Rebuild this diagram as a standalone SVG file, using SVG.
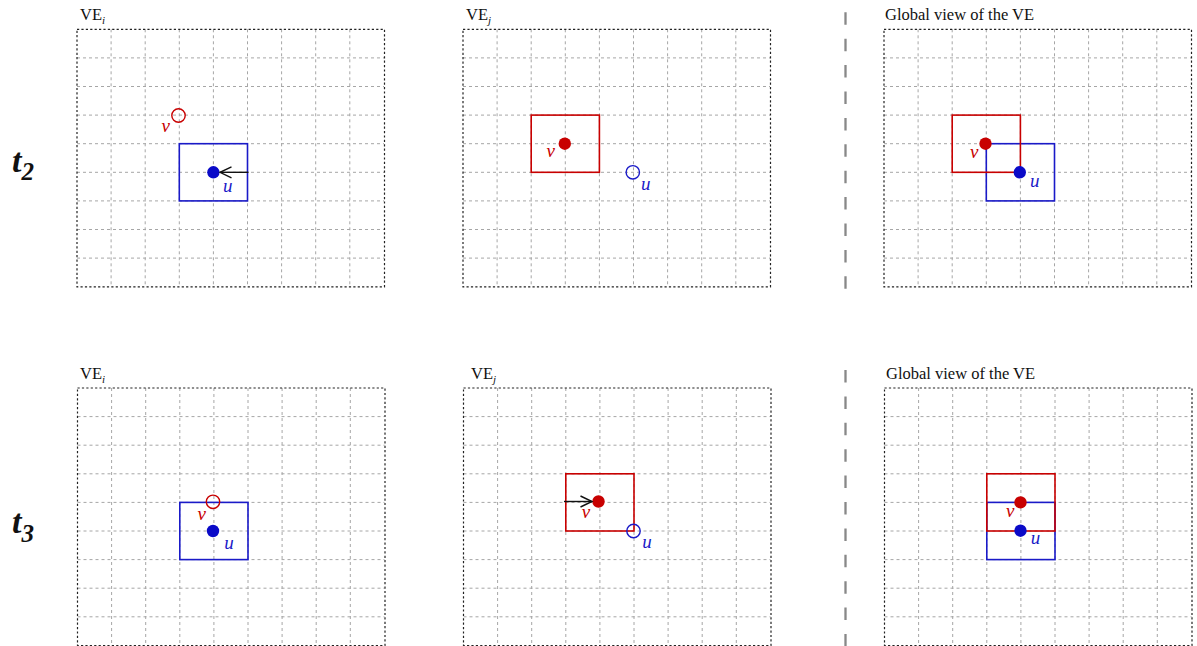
<svg xmlns="http://www.w3.org/2000/svg" width="1197" height="646" viewBox="0 0 1197 646">
<style>
  .grid { fill: none; stroke: #a6a6a6; stroke-width: 1; stroke-dasharray: 3 3; }
  .border { fill: none; stroke: #222; stroke-width: 1.2; stroke-dasharray: 2.2 2.2; }
  .lbl { font-family: "Liberation Serif", serif; font-size: 16.5px; fill: #111; }
  .sub { font-family: "Liberation Serif", serif; font-style: italic; font-size: 11px; }
  .ti { font-family: "Liberation Serif", serif; font-weight: bold; font-style: italic; fill: #111; }
  .nm { font-family: "Liberation Serif", serif; font-style: italic; font-size: 19px; }
  .bsq { fill: none; stroke: #1a1ac8; stroke-width: 1.6; }
  .rsq { fill: none; stroke: #c80000; stroke-width: 1.6; }
  .bdot { fill: #0a0ac8; }
  .rdot { fill: #c80000; }
  .bring { fill: none; stroke: #1a1ac8; stroke-width: 1.4; }
  .rring { fill: none; stroke: #c80000; stroke-width: 1.4; }
  .btx { fill: #1a1ac8; }
  .rtx { fill: #c80000; }
  .arrow { stroke: #111; stroke-width: 1.4; fill: none; marker-end: url(#open); }
  .divider { stroke: #888; stroke-width: 2.3; stroke-dasharray: 12.5 13.9; }
</style>
<defs>
  <marker id="open" viewBox="-13 -7 15 14" refX="0" refY="0" markerWidth="15" markerHeight="14" markerUnits="userSpaceOnUse" orient="auto">
    <path d="M-11.5,-5.5 L0,0 L-11.5,5.5" fill="none" stroke="#111" stroke-width="1.4"/>
  </marker>
  <g id="panel">
    <path class="grid" d="M34.1,0V257.5M68.2,0V257.5M102.3,0V257.5M136.4,0V257.5M170.5,0V257.5M204.6,0V257.5M238.7,0V257.5M272.8,0V257.5M0,28.6H307M0,57.2H307M0,85.8H307M0,114.4H307M0,143H307M0,171.6H307M0,200.2H307M0,228.8H307"/>
    <rect class="border" x="0" y="0" width="307.5" height="257.5"/>
  </g>
</defs>
<rect width="1197" height="646" fill="#fff"/>

<g id="row-labels">
  <text class="ti" x="12" y="171.5" font-size="34">t<tspan font-size="25" dy="8.5">2</tspan></text>
  <text class="ti" x="12" y="533" font-size="34">t<tspan font-size="25" dy="8.5">3</tspan></text>
</g>

<g id="dividers">
  <line class="divider" x1="845.5" y1="12.3" x2="845.5" y2="289"/>
  <line class="divider" x1="845.5" y1="370" x2="845.5" y2="646"/>
</g>

<!-- Top row, t2 -->
<g id="t2-VEi">
  <use href="#panel" x="77" y="29.3"/>
  <text class="lbl" x="80" y="20">VE<tspan class="sub" dy="3.5">i</tspan></text>
  <rect class="bsq" x="179.3" y="143.7" width="68.2" height="57.2"/>
  <circle class="bdot" cx="213.4" cy="172.3" r="6.2"/>
  <circle class="rring" cx="178.5" cy="115.5" r="6.7"/>
  <text class="nm rtx" x="161.5" y="131.5">v</text>
  <text class="nm btx" x="223" y="191.5">u</text>
</g>

<g id="t2-VEj">
  <use href="#panel" x="463" y="29.3"/>
  <text class="lbl" x="466" y="20">VE<tspan class="sub" dy="3.5">j</tspan></text>
  <rect class="rsq" x="531.2" y="115.1" width="68.2" height="57.2"/>
  <circle class="rdot" cx="564.8" cy="143.7" r="6.2"/>
  <circle class="bring" cx="632.8" cy="172.3" r="6.7"/>
  <text class="nm rtx" x="546.5" y="157.3">v</text>
  <text class="nm btx" x="641" y="190">u</text>
</g>

<g id="t2-global">
  <use href="#panel" x="884" y="29.3"/>
  <text class="lbl" x="885" y="20">Global view of the VE</text>
  <rect class="bsq" x="986.3" y="143.7" width="68.2" height="57.2"/>
  <rect class="rsq" x="952.2" y="115.1" width="68.2" height="57.2"/>
  <circle class="rdot" cx="985.5" cy="143.7" r="6.2"/>
  <circle class="bdot" cx="1019.8" cy="172.3" r="6.2"/>
  <text class="nm rtx" x="970" y="158.3">v</text>
  <text class="nm btx" x="1030" y="186.7">u</text>
</g>

<!-- Bottom row, t3 -->
<g id="t3-VEi">
  <use href="#panel" x="77.5" y="388"/>
  <text class="lbl" x="80" y="379">VE<tspan class="sub" dy="3.5">i</tspan></text>
  <rect class="bsq" x="179.8" y="502.4" width="68.2" height="57.2"/>
  <circle class="bdot" cx="213" cy="531" r="6.2"/>
  <circle class="rring" cx="213" cy="501.8" r="6.7"/>
  <text class="nm rtx" x="197.5" y="520">v</text>
  <text class="nm btx" x="224.3" y="549">u</text>
</g>

<g id="t3-VEj">
  <use href="#panel" x="463.5" y="388"/>
  <text class="lbl" x="471" y="379">VE<tspan class="sub" dy="3.5">j</tspan></text>
  <rect class="rsq" x="565.8" y="473.8" width="68.2" height="57.2"/>
  <circle class="rdot" cx="598.5" cy="501.5" r="6.2"/>
  <circle class="bring" cx="633.5" cy="531" r="6.7"/>
  <text class="nm rtx" x="581.7" y="518.3">v</text>
  <text class="nm btx" x="642.3" y="548.3">u</text>
</g>

<g id="t3-global">
  <use href="#panel" x="884.5" y="388"/>
  <text class="lbl" x="886" y="378.5">Global view of the VE</text>
  <rect class="bsq" x="986.8" y="502.4" width="68.2" height="57.2"/>
  <rect class="rsq" x="986.8" y="473.8" width="68.2" height="57.2"/>
  <circle class="rdot" cx="1020.5" cy="502.4" r="6.2"/>
  <circle class="bdot" cx="1020.5" cy="530.7" r="6.2"/>
  <text class="nm rtx" x="1006" y="516.7">v</text>
  <text class="nm btx" x="1030.7" y="544.3">u</text>
</g>

<g id="connectors">
  <line class="arrow" x1="248.5" y1="172.3" x2="220" y2="172.3"/>
  <line class="arrow" x1="564" y1="501.5" x2="592" y2="501.5"/>
</g>
</svg>
